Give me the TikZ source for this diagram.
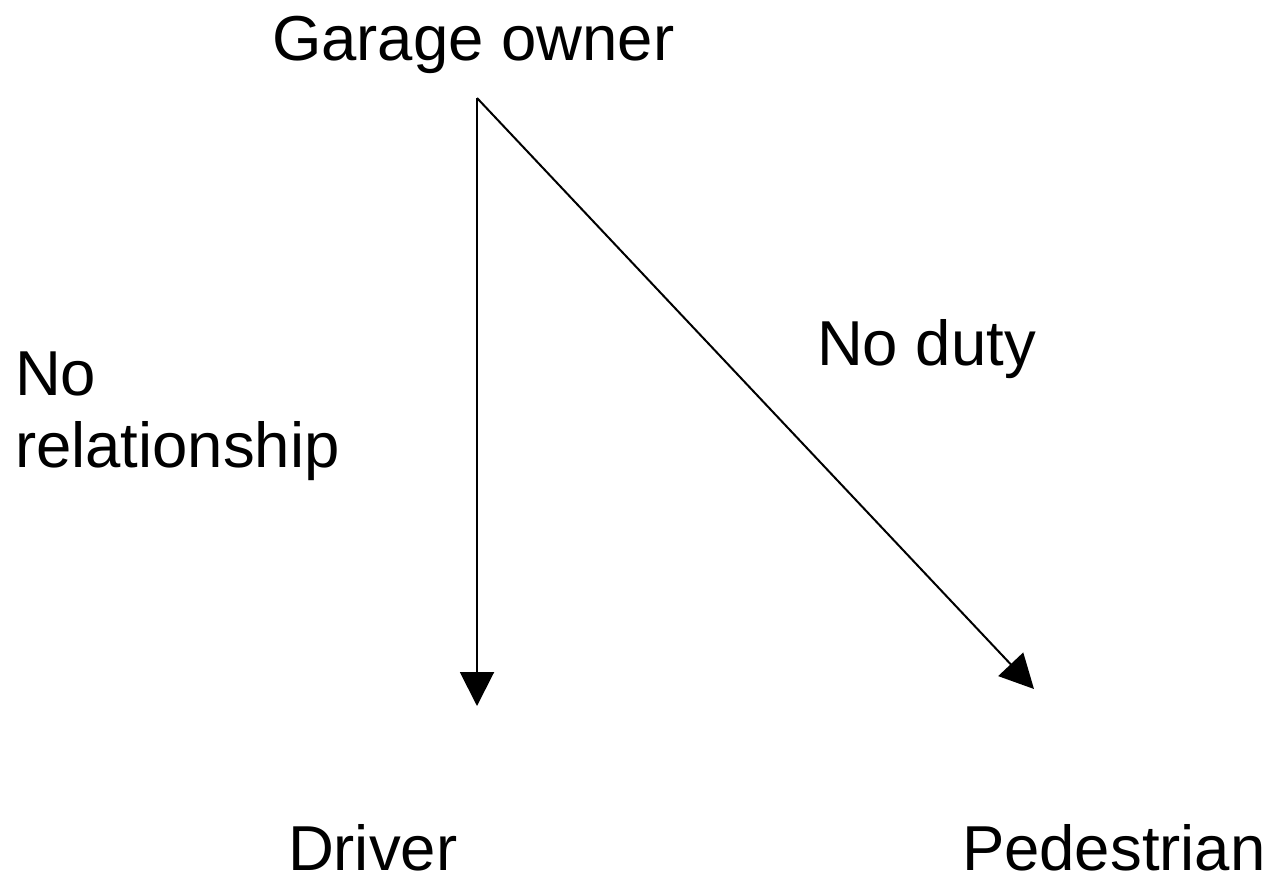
\documentclass[tikz,border=0pt]{standalone}
\usepackage{fontspec}
\setmainfont{Liberation Sans}
\usetikzlibrary{arrows.meta}
\tikzset{
  lbl/.style={inner sep=0pt, outer sep=0pt, anchor=base west, font=\fontsize{63.5}{72}\selectfont, align=left},
  conn/.style={line width=2pt, -{Triangle[length=34pt,width=34pt]}}
}
\begin{document}
\begin{tikzpicture}[x=1pt,y=-1pt]
\useasboundingbox[fill=white] (0,0) rectangle (1269,880);
\node[lbl] (owner) at (272,61) {Garage owner};
\node[lbl] (norel) at (15,467) {No\\relationship};
\node[lbl] (noduty) at (817,365) {No duty};
\node[lbl, text depth=0pt] (driver) at (288,870) {Driver};
\node[lbl, text depth=0pt] (ped) at (962,870) {Pedestrian};
\coordinate (src) at (477,98);
\coordinate (dend) at (477,706);
\coordinate (pend) at (1034,689);
\draw[conn] (src) -- (dend);
\draw[conn] (src) -- (pend);
\end{tikzpicture}
\end{document}
